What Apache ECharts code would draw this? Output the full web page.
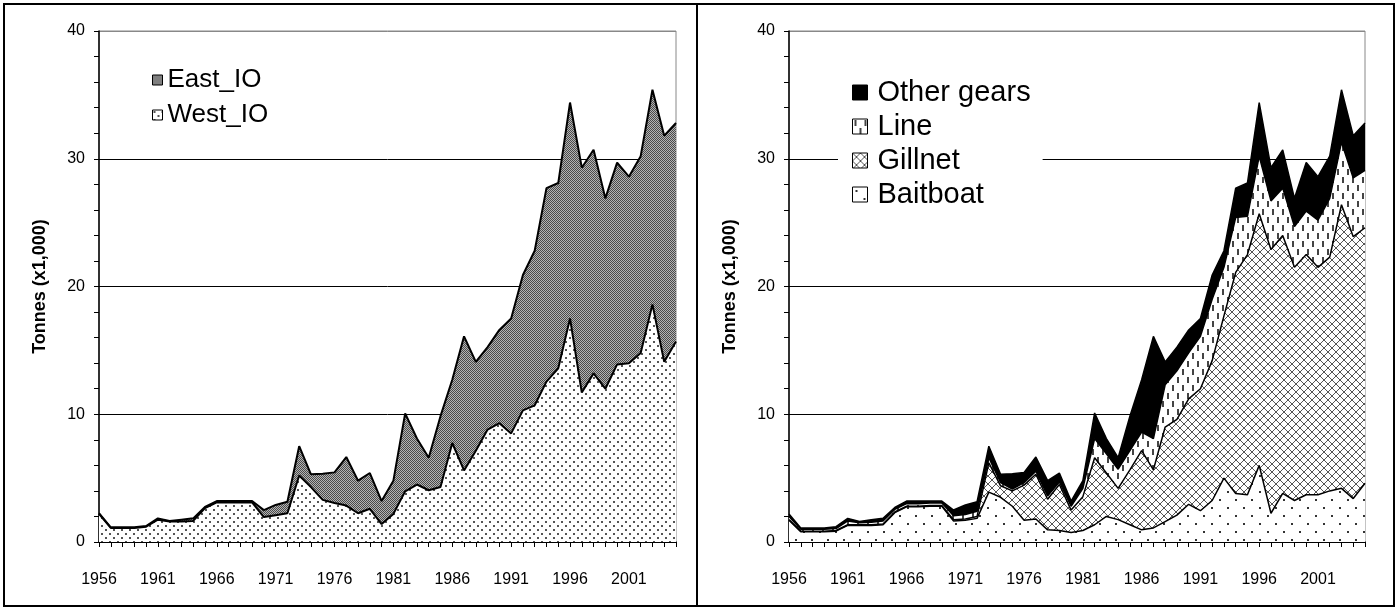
<!DOCTYPE html>
<html>
<head>
<meta charset="utf-8">
<script src="https://cdn.jsdelivr.net/npm/echarts@6/dist/echarts.min.js"></script>
<style>
  html, body { margin: 0; padding: 0; background: #fff; }
  #chart { width: 1398px; height: 612px; }
</style>
</head>
<body>
<div id="chart"></div>
<script>
// Catch by year, thousands of tonnes
const years = ['1956','1957','1958','1959','1960','1961','1962','1963','1964','1965',
  '1966','1967','1968','1969','1970','1971','1972','1973','1974','1975',
  '1976','1977','1978','1979','1980','1981','1982','1983','1984','1985',
  '1986','1987','1988','1989','1990','1991','1992','1993','1994','1995',
  '1996','1997','1998','1999','2000','2001','2002','2003','2004','2005'];

// By area
const westIO = [2.2,1.1,1.1,1.1,1.2,1.75,1.6,1.6,1.65,2.65,
  3.1,3.1,3.1,3.1,1.95,2.1,2.25,5.2,4.3,3.3,
  3.05,2.85,2.25,2.6,1.4,2.2,3.97,4.5,4.05,4.3,
  7.75,5.6,7.15,8.8,9.3,8.5,10.3,10.7,12.55,13.6,
  17.5,11.7,13.2,12.0,13.9,14.0,14.8,18.6,14.1,15.7];
const eastIO = [0.05,0.05,0.05,0.05,0.05,0.1,0.05,0.15,0.2,0.1,
  0.1,0.1,0.1,0.1,0.55,0.8,0.9,2.3,1.0,2.05,
  2.4,3.8,2.55,2.8,1.8,2.6,6.1,3.6,2.55,5.55,
  4.95,10.5,6.95,6.45,7.3,9.0,10.6,12.1,15.15,14.5,
  16.9,17.6,17.5,14.9,15.8,14.6,15.4,16.8,17.7,17.1];

// By gear
const baitboat = [1.7,0.8,0.8,0.8,0.85,1.3,1.3,1.3,1.35,2.3,
  2.75,2.75,2.8,2.8,1.65,1.7,1.85,3.9,3.5,2.8,
  1.7,1.8,0.95,0.9,0.75,0.9,1.35,2.0,1.75,1.35,
  0.95,1.1,1.6,2.1,2.95,2.45,3.25,5.0,3.8,3.7,
  6.0,2.25,3.8,3.25,3.7,3.7,4.0,4.2,3.4,4.6];
const gillnet = [0.05,0.05,0.05,0.05,0.05,0.05,0.05,0.05,0.05,0.05,
  0.05,0.05,0.05,0.05,0.1,0.1,0.15,2.3,0.9,1.2,
  2.75,3.5,2.4,3.6,1.75,2.65,5.25,3.4,2.45,4.3,
  6.2,4.55,7.4,7.5,8.25,9.55,10.95,12.7,17.3,18.8,
  19.7,20.65,20.2,18.25,18.8,17.8,18.3,22.2,20.5,20.0];
const lineGear = [0.25,0.15,0.15,0.15,0.15,0.3,0.15,0.2,0.25,0.2,
  0.2,0.2,0.2,0.2,0.3,0.35,0.4,0.4,0.25,0.15,
  0.2,0.25,0.25,0.2,0.3,0.65,1.5,1.5,1.5,1.5,
  1.45,2.45,3.3,3.8,3.6,4.1,4.8,3.8,4.3,3.0,
  4.5,3.8,3.7,3.2,3.4,3.7,4.6,4.9,4.6,4.5];
const otherGears = [0.2,0.1,0.1,0.1,0.15,0.2,0.1,0.2,0.2,0.15,
  0.2,0.2,0.15,0.15,0.45,0.75,0.75,0.9,0.65,1.2,
  0.8,1.1,1.2,0.7,0.4,0.6,2.0,1.2,0.9,2.7,
  4.1,8.0,1.8,1.85,1.8,1.4,1.9,1.3,2.3,2.6,
  4.2,2.6,3.0,2.2,3.8,3.4,3.3,4.1,3.3,3.7];

const yTitle = 'Tonnes (x1,000)';
const FONT = 'Arial, "Liberation Sans", sans-serif';

// Fill patterns
function tile(w, h, paint) {
  const c = document.createElement('canvas');
  c.width = w; c.height = h;
  const g = c.getContext('2d');
  g.fillStyle = '#fff';
  g.fillRect(0, 0, w, h);
  paint(g);
  return { image: c, repeat: 'repeat' };
}
const westFill = tile(8, 8, g => {
  g.fillStyle = '#555';
  g.fillRect(1, 1, 2, 2);
  g.fillRect(5, 5, 2, 2);
});
const eastFill = tile(2, 2, g => {
  g.fillStyle = '#b4b4b4';
  g.fillRect(0, 0, 2, 2);
  g.fillStyle = '#4a4a4a';
  g.fillRect(0, 0, 1, 1);
  g.fillRect(1, 1, 1, 1);
});
const baitFill = tile(16, 16, g => {
  g.fillStyle = '#333';
  g.fillRect(3, 3, 2, 2);
  g.fillRect(11, 11, 2, 2);
});
const gillFill = tile(8, 8, g => {
  g.fillStyle = '#555';
  for (let i = 0; i < 8; i++) {
    g.fillRect(i, i, 1, 1);
    g.fillRect(i, 7 - i, 1, 1);
  }
});
const lineFill = tile(10, 16, g => {
  g.fillStyle = '#444';
  g.fillRect(2, 1, 2, 6);
  g.fillRect(7, 9, 2, 6);
});
const otherFill = '#000';

function xAxisFor(i) {
  return {
    type: 'category', gridIndex: i, data: years, boundaryGap: false,
    axisLine: { lineStyle: { color: '#000', width: 1.5 } },
    axisTick: { show: true, interval: 0, length: 5, lineStyle: { color: '#000' } },
    axisLabel: { interval: 4, fontSize: 16, color: '#000', margin: 30, fontFamily: FONT },
    splitLine: { show: false }
  };
}
function yAxisFor(i) {
  return {
    type: 'value', gridIndex: i, min: 0, max: 40, interval: 10,
    axisLine: { show: true, lineStyle: { color: '#000', width: 1.5 } },
    axisTick: { show: true, length: 5, lineStyle: { color: '#000' } },
    minorTick: { show: true, splitNumber: 5, length: 5, lineStyle: { color: '#000' } },
    axisLabel: { fontSize: 16, color: '#000', margin: 14, fontFamily: FONT },
    splitLine: { show: true, lineStyle: { color: ['#000', '#000', '#000', '#000', '#888'], width: 1 } },
    name: yTitle, nameLocation: 'middle', nameGap: 50, nameRotate: 90,
    nameTextStyle: { fontWeight: 'bold', fontSize: 18, color: '#000', fontFamily: FONT }
  };
}
function area(name, data, fill, grid, stack, width) {
  return {
    name, type: 'line', data, stack, xAxisIndex: grid, yAxisIndex: grid,
    symbol: 'none', smooth: false,
    color: fill,
    lineStyle: { color: '#000', width },
    areaStyle: { color: fill, opacity: 1 },
    emphasis: { disabled: true }
  };
}
function legendItem(name, fill) {
  return { name, itemStyle: { color: fill, borderColor: '#000', borderWidth: 1 } };
}

const chart = echarts.init(document.getElementById('chart'), null, { renderer: 'canvas' });
chart.setOption({
  animation: false,
  backgroundColor: '#fff',
  grid: [
    { left: 99, top: 31, width: 577, height: 511, show: true, borderColor: '#888', borderWidth: 1 },
    { left: 789, top: 31, width: 576, height: 511, show: true, borderColor: '#888', borderWidth: 1 }
  ],
  xAxis: [xAxisFor(0), xAxisFor(1)],
  yAxis: [yAxisFor(0), yAxisFor(1)],
  legend: [
    {
      data: [legendItem('East_IO', eastFill), legendItem('West_IO', westFill)],
      orient: 'vertical', left: 152, top: 67, padding: 0,
      icon: 'rect', itemWidth: 10, itemHeight: 10, itemGap: 9,
      selectedMode: false,
      textStyle: { fontSize: 26, color: '#000', fontFamily: FONT }
    },
    {
      data: [legendItem('Other gears', otherFill), legendItem('Line', lineFill),
             legendItem('Gillnet', gillFill), legendItem('Baitboat', baitFill)],
      orient: 'vertical', left: 838, top: 68, padding: [10, 12, 10, 14],
      backgroundColor: '#fff',
      icon: 'rect', itemWidth: 15, itemHeight: 15, itemGap: 5,
      selectedMode: false,
      textStyle: { fontSize: 29, color: '#000', fontFamily: FONT, padding: [0, 0, 0, 5] }
    }
  ],
  series: [
    area('West_IO', westIO, westFill, 0, 'area', 2),
    area('East_IO', eastIO, eastFill, 0, 'area', 2),
    area('Baitboat', baitboat, baitFill, 1, 'gear', 1.5),
    area('Gillnet', gillnet, gillFill, 1, 'gear', 1.5),
    area('Line', lineGear, lineFill, 1, 'gear', 1.5),
    area('Other gears', otherGears, otherFill, 1, 'gear', 1.5)
  ],
  graphic: [
    { type: 'rect', shape: { x: 4, y: 4, width: 693, height: 602 },
      style: { fill: 'none', stroke: '#000', lineWidth: 2 }, z: 100, silent: true },
    { type: 'rect', shape: { x: 697, y: 4, width: 697, height: 602 },
      style: { fill: 'none', stroke: '#000', lineWidth: 2 }, z: 100, silent: true }
  ]
});
</script>
</body>
</html>
